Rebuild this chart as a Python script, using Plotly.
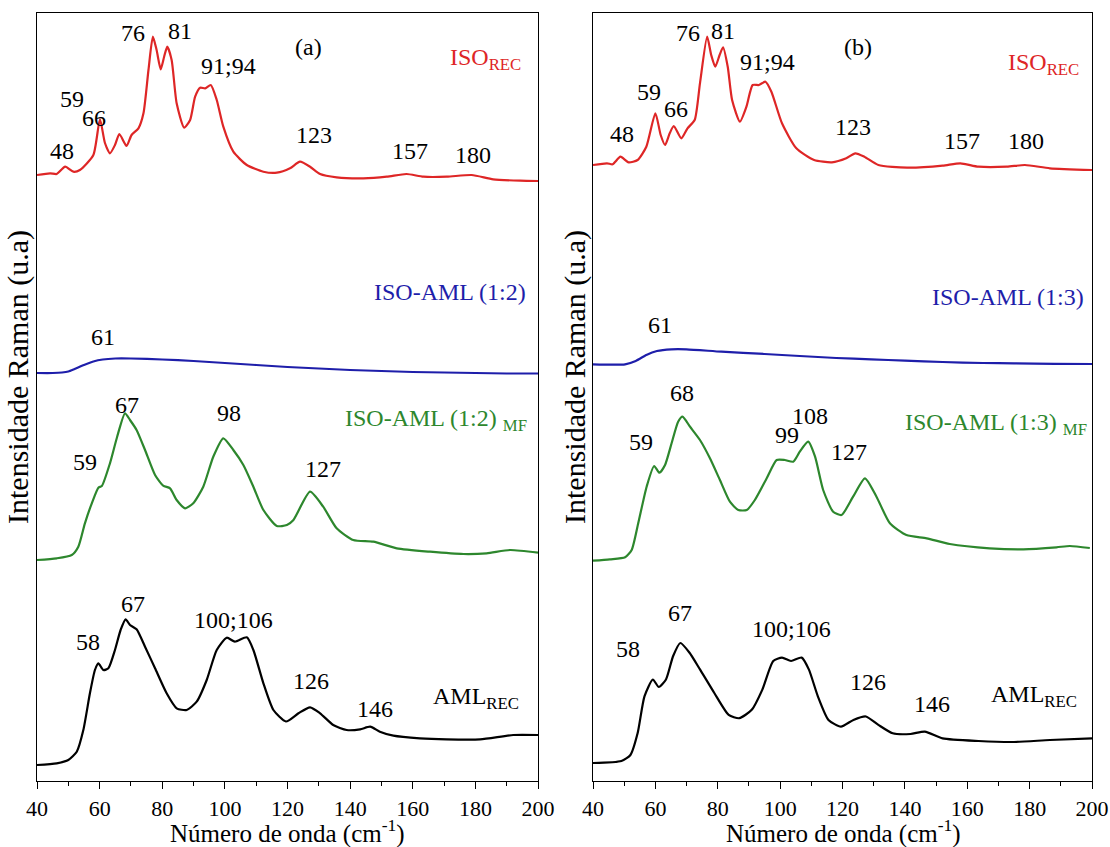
import plotly.graph_objects as go

# ---------------- data (intensity in arbitrary units) ----------------
# Panel (a)
iso_rec_a_x = [40, 44.2, 46.3, 49, 51.6, 53.7, 58, 60.1, 61.7, 63.3, 64.9, 66.3, 68.6, 70.2, 72.4, 74, 75.6, 77,
               78.2, 79.5, 80.6, 81.6, 83, 84.6, 87, 88.9, 90.5, 92.1, 93.7, 95.5, 97.4, 99.5, 102.7, 107, 112.3,
               116.6, 120.8, 124, 127.2, 130.4, 135.7, 144.2, 151.7, 158, 163.4, 170.9, 178.8, 185.7, 194.3, 200]
iso_rec_a_y = [606, 607.7, 607, 614.3, 609.3, 611, 626, 661.7, 638, 627.7, 636, 647, 635, 646, 652.7, 667.7, 711,
               744.3, 731, 711.7, 724.3, 734.3, 721, 677.7, 653.3, 661, 684.3, 693.3, 692.7, 696, 681, 654.3, 629.3,
               616, 609.3, 608.3, 612.7, 619.3, 614.3, 607, 603.7, 602.7, 604.3, 607, 604.3, 604.3, 606, 601.7,
               600.3, 600]

iso_aml12_x = [40, 45, 48, 50, 52, 55, 58, 61, 65, 70, 80, 90, 100, 110, 120, 130, 140, 150, 160, 170, 180, 190, 200]
iso_aml12_y = [408, 408, 408.5, 409.5, 412, 416, 419.5, 421.5, 422.5, 422.5, 421.5, 420, 418, 416, 414, 412.5, 411,
               410, 409, 408.5, 408, 407.5, 407.5]

iso_aml12mf_x = [40, 46.3, 51.1, 53.2, 55.3, 57.5, 59.6, 60.7, 63.3, 65.6, 68.1, 69.7, 71.8, 74.5, 77.7, 80.3, 82.5,
                 84.6, 87.3, 89.9, 93.1, 96.3, 99.5, 102.7, 105.9, 109.1, 112.3, 116.6, 119.8, 121.9, 127.2, 131.4,
                 135.7, 141, 147.4, 154.9, 165.5, 176.2, 183.6, 191.1, 200]
iso_aml12mf_y = [221, 222.7, 226, 234.3, 257.7, 277.7, 293.3, 295, 317.7, 344.3, 367.7, 361, 351, 331, 306, 295.3,
                 292.7, 281, 272.7, 277.7, 294.3, 324.3, 342.7, 331, 316, 294.3, 271, 255, 256, 261, 289.3, 274.3,
                 252.7, 241, 239.3, 232.7, 229.3, 227, 227.7, 231, 228.3]

aml_rec_a_x = [40, 46.3, 50, 52.7, 54.8, 56.9, 58.5, 59.6, 61.2, 62.8, 64.9, 66.7, 68.3, 69.7, 71.8, 74.5, 77.7, 81.4,
               84.6, 87.8, 91, 94.2, 97.4, 100.6, 103.2, 107, 109.1, 112.3, 115.5, 119.5, 123.5, 127.2, 130.4, 134.6,
               138.9, 143.2, 146.4, 149.5, 153.8, 162.3, 170.8, 181.5, 192.1, 200]
aml_rec_a_y = [16, 17.7, 21, 29.3, 51, 87.7, 111, 117.7, 111, 112.7, 131, 151, 161.7, 156, 151.7, 134.3, 112.7, 87.7,
               72.7, 71, 79.3, 101, 131, 143.3, 139.3, 143.7, 131, 97.7, 71, 59.5, 67.7, 73.7, 67.7, 56, 51, 51.7,
               54.3, 49.3, 45.3, 42.7, 41.7, 41.7, 46, 46]

# Panel (b)
iso_rec_b_x = [40, 44.5, 46.3, 48.8, 51.4, 54.3, 57.1, 60, 61.7, 63.1, 64.6, 65.9, 68.3, 70.3, 72.6, 74.3, 76.6, 77.9,
               79.2, 80.6, 81.7, 83.2, 84.6, 87.1, 89.2, 91.2, 93.2, 95.3, 97.2, 100.6, 105.2, 110.9, 116.6, 121.2,
               124.1, 127, 131.5, 140.7, 152.1, 157.8, 163.6, 172.7, 178.5, 186.5, 200]
iso_rec_b_y = [616, 617.7, 616.7, 624.3, 618.7, 621, 634.3, 667.7, 646, 636, 647.7, 655, 642.7, 652.7, 661, 697.7,
               744.3, 726, 714.3, 726, 733.7, 714.3, 681, 659.3, 674.3, 696, 696, 699.3, 689.3, 657.7, 632.7, 621,
               618.7, 622.7, 627.7, 624.3, 616, 613.3, 615.3, 617.7, 614.3, 614.3, 616, 612.7, 611]

iso_aml13_x = [40, 50.3, 53.7, 57.1, 60.5, 65.1, 70, 81.2, 95, 106.3, 118, 129.2, 140, 152.1, 165, 175, 188, 200]
iso_aml13_y = [416.7, 416.7, 420, 426, 430, 431.7, 431.7, 429.3, 427, 425, 423, 421.7, 420.3, 419, 418, 417.7,
               417.2, 417]

iso_aml13mf_x = [40, 45.4, 50.3, 52.4, 54.5, 57.2, 59.6, 61.3, 63.1, 65.2, 67.3, 68.7, 71.1, 74.3, 77.5, 80.7, 83.9,
                 86.6, 89.3, 91.9, 95.7, 98.9, 101.5, 104.2, 106.3, 109, 111.2, 113.8, 117, 119.7, 123.4, 127.2,
                 130.9, 135.2, 140.5, 147, 154.4, 167.2, 178, 188.6, 192.9, 199.3]
iso_aml13mf_y = [220.3, 221.7, 223.7, 231, 257.7, 294.3, 315, 308.3, 316, 337.7, 359.3, 364.3, 354.3, 341, 322.7,
                 301, 279.3, 271, 271, 281, 302.7, 321, 321, 319.3, 329.3, 339.3, 324.3, 291, 269.3, 266, 284.3,
                 302.7, 284.3, 257.7, 246, 242.7, 237, 232.7, 231.7, 233.7, 235, 233]

aml_rec_b_x = [40, 49.1, 52, 54.3, 56.5, 59.2, 61.1, 63.4, 65.7, 68, 70.9, 74.3, 78.9, 83.5, 86.9, 90.9, 94.3, 97.8,
               100.6, 103.5, 106.9, 109.2, 112.1, 115.5, 119.5, 123.5, 127.5, 131.5, 136.1, 141.8, 146.4, 152.1,
               163.6, 175, 186.5, 200]
aml_rec_b_y = [18, 20, 26, 47.7, 84.7, 101.5, 94, 101.5, 125, 138, 128.5, 111.6, 88, 66.2, 62.8, 71.2, 91.4, 120,
               123.4, 120, 123.4, 111.6, 84.7, 61.1, 54.4, 61.1, 64.5, 56.1, 47.7, 47, 49.4, 42.6, 40, 39, 41, 42.6]

x_tick_vals = [40, 60, 80, 100, 120, 140, 160, 180, 200]
x_tick_text = ["40", "60", "80", "100", "120", "140", "160", "180", "200"]

# peak labels: (text, px, py) positions in the image
labels_a = [("48", 62, 151), ("59", 72, 99), ("66", 94, 118), ("76", 133, 33), ("81", 180, 31),
            ("91;94", 228, 66), ("123", 314, 135), ("157", 410, 151), ("180", 473, 155),
            ("61", 103, 337), ("67", 127, 405), ("98", 229, 413), ("59", 85, 462), ("127", 323, 469),
            ("58", 88, 642), ("67", 133, 604), ("100;106", 233, 620), ("126", 311, 681), ("146", 375, 709)]
labels_b = [("48", 622, 134), ("59", 649, 92), ("66", 676, 109), ("76", 688, 33), ("81", 723, 31),
            ("91;94", 767, 62), ("123", 853, 127), ("157", 962, 141), ("180", 1026, 141),
            ("61", 660, 325), ("68", 682, 393), ("59", 641, 442), ("99", 787, 435), ("108", 810, 416),
            ("127", 849, 452), ("58", 628, 649), ("67", 680, 613), ("100;106", 791, 629), ("126", 868, 682),
            ("146", 932, 704)]

RED = "rgb(222,38,38)"
BLUE = "rgb(30,30,170)"
GREEN = "rgb(45,135,45)"
BLACK = "rgb(0,0,0)"

# series names: (text, right edge px, center py, colour)
series_labels = [
    ("ISO<sub>REC</sub>", 523, 59, RED), ("ISO-AML (1:2)", 528, 292, BLUE),
    ("ISO-AML (1:2) <sub>MF</sub>", 529, 420, GREEN), ("AML<sub>REC</sub>", 521, 698, BLACK),
    ("ISO<sub>REC</sub>", 1081, 64, RED), ("ISO-AML (1:3)", 1086, 297, BLUE),
    ("ISO-AML (1:3) <sub>MF</sub>", 1089, 424, GREEN), ("AML<sub>REC</sub>", 1079, 696, BLACK),
]
panel_tags = [("(a)", 308, 47), ("(b)", 858, 47)]

# ---------------- figure ----------------
W, H = 1110, 847
FONT = "Liberation Serif, Times New Roman, serif"

fig = go.Figure()
curves = [
    (iso_rec_a_x, iso_rec_a_y, RED, "x", "y"),
    (iso_aml12_x, iso_aml12_y, BLUE, "x", "y"),
    (iso_aml12mf_x, iso_aml12mf_y, GREEN, "x", "y"),
    (aml_rec_a_x, aml_rec_a_y, BLACK, "x", "y"),
    (iso_rec_b_x, iso_rec_b_y, RED, "x2", "y2"),
    (iso_aml13_x, iso_aml13_y, BLUE, "x2", "y2"),
    (iso_aml13mf_x, iso_aml13mf_y, GREEN, "x2", "y2"),
    (aml_rec_b_x, aml_rec_b_y, BLACK, "x2", "y2"),
]
for xs, ys, col, xa, ya in curves:
    fig.add_trace(go.Scatter(x=xs, y=ys, mode="lines", xaxis=xa, yaxis=ya,
                             line=dict(color=col, width=2.2, shape="spline", smoothing=0.6),
                             showlegend=False, hoverinfo="skip"))

xcommon = dict(range=[40, 200], showgrid=False, zeroline=False, showline=True, linecolor="black",
               linewidth=1.3, mirror=True, ticks="outside", ticklen=7, tickwidth=1.3, tickcolor="black",
               tickvals=x_tick_vals, ticktext=x_tick_text, tickfont=dict(family=FONT, size=22, color="black"),
               minor=dict(dtick=10, ticks="outside", ticklen=4, tickwidth=1.3, tickcolor="black"),
               automargin=False)
ycommon = dict(range=[0, 768], showgrid=False, zeroline=False, showline=True, linecolor="black",
               linewidth=1.3, mirror=True, ticks="", showticklabels=False, automargin=False)

ydom = [(H - 781) / H, (H - 13) / H]
fig.update_layout(
    width=W, height=H, margin=dict(l=0, r=0, t=0, b=0),
    paper_bgcolor="white", plot_bgcolor="white",
    xaxis=dict(domain=[37 / W, 538 / W], anchor="y", **xcommon),
    yaxis=dict(domain=ydom, anchor="x", **ycommon),
    xaxis2=dict(domain=[593 / W, 1092 / W], anchor="y2", **xcommon),
    yaxis2=dict(domain=ydom, anchor="x2", **ycommon),
    font=dict(family=FONT, color="black", size=23),
)

annotations = []
for txt, px, py in labels_a + labels_b + panel_tags:
    annotations.append(dict(text=txt, x=px / W, y=1 - py / H, xref="paper", yref="paper",
                            showarrow=False, font=dict(family=FONT, size=24, color="black"),
                            xanchor="center", yanchor="middle"))
for txt, px, py, col in series_labels:
    annotations.append(dict(text=txt, x=px / W, y=1 - py / H, xref="paper", yref="paper",
                            showarrow=False, font=dict(family=FONT, size=24, color=col),
                            xanchor="right", yanchor="middle"))
# axis titles
for cx in (287, 843):
    annotations.append(dict(text="Número de onda (cm<sup>-1</sup>)", x=cx / W, y=1 - 831 / H,
                            xref="paper", yref="paper", showarrow=False,
                            font=dict(family=FONT, size=25, color="black"),
                            xanchor="center", yanchor="middle"))
for cx in (18, 575):
    annotations.append(dict(text="Intensidade Raman (u.a)", x=cx / W, y=1 - 377 / H,
                            xref="paper", yref="paper", showarrow=False, textangle=-90,
                            font=dict(family=FONT, size=30, color="black"),
                            xanchor="center", yanchor="middle"))
fig.update_layout(annotations=annotations)

fig.write_html("out.html", config={"displayModeBar": False},
               post_script="document.body.style.margin='0';document.body.style.overflow='hidden';")
